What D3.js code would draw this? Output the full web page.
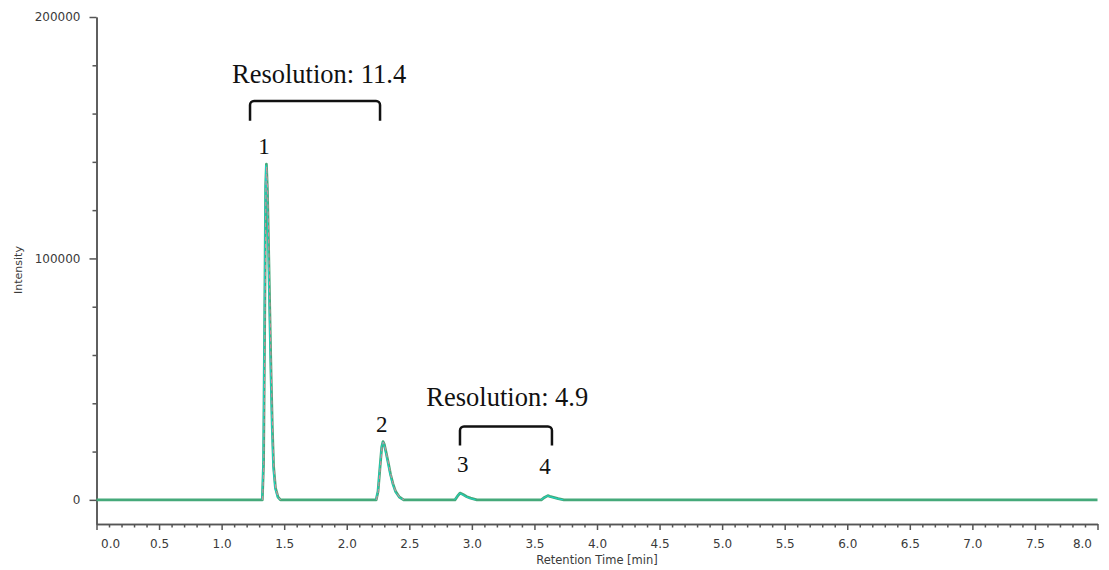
<!DOCTYPE html>
<html>
<head>
<meta charset="utf-8">
<script src="https://cdn.jsdelivr.net/npm/d3@7"></script>
<style>
  body { margin: 0; background: #fff; }
  .axis path, .axis line { stroke: #555; }
  .axis text { font-family: "DejaVu Sans", sans-serif; font-size: 12px; fill: #3a3a3a; }
  .axisTitle { font-family: "DejaVu Sans", sans-serif; fill: #3a3a3a; }
  .note { font-family: "Liberation Serif", "Times New Roman", serif; fill: #111; }
</style>
</head>
<body>
<script>
(function(){

  //main trace (green), retention time in min and intensity
  var mainTime = [0.0, 1.325, 1.335, 1.345, 1.352, 1.358, 1.366, 1.375, 1.385, 1.395, 1.405, 1.415, 1.43, 1.45, 1.47,
                  2.235, 2.25, 2.265, 2.28, 2.29, 2.30, 2.315, 2.333, 2.35, 2.37, 2.39, 2.42, 2.455,
                  2.865, 2.885, 2.905, 2.93, 2.96, 2.99, 3.04,
                  3.555, 3.58, 3.607, 3.63, 3.66, 3.69, 3.735, 8.0];
  var mainIntensity = [0, 0, 15000, 80000, 130000, 139000, 128000, 105000, 78000, 52000, 30000, 14000, 5000, 1200, 0,
                       0, 3500, 13000, 22000, 24100, 23000, 19500, 15000, 10500, 6500, 3500, 1200, 0,
                       0, 1500, 2800, 2200, 1300, 700, 0,
                       0, 1000, 1750, 1300, 900, 500, 0, 0];

  //overlaid trace (cyan), only around the peaks, null breaks the line
  var cyanTime = [1.322, 1.331, 1.341, 1.348, 1.354, 1.362, 1.371, 1.381, 1.391, 1.401, 1.411, 1.426, 1.446, 1.466, 1.5,
                  2.232, 2.247, 2.262, 2.277, 2.287, 2.297, 2.312, 2.33, 2.347, 2.367, 2.387, 2.417, 2.452, 2.5,
                  2.862, 2.882, 2.902, 2.927, 2.957, 2.987, 3.03, 3.1,
                  3.552, 3.577, 3.604, 3.627, 3.657, 3.687, 3.73];
  var cyanIntensity = [0, 14000, 78000, 129000, 138500, 127000, 104000, 77000, 51000, 29000, 13500, 4800, 1100, 0, null,
                       0, 3400, 12800, 21800, 24000, 22900, 19300, 14800, 10300, 6400, 3400, 1100, 0, null,
                       0, 1400, 2700, 2100, 1200, 600, 0, null,
                       0, 900, 1700, 1250, 850, 450, 0];

  //overlaid trace (pink dashed)
  var pinkTime = [1.327, 1.337, 1.347, 1.354, 1.36, 1.368, 1.377, 1.387, 1.397, 1.407, 1.417, 1.432, 1.452, 1.472, 1.5,
                  2.237, 2.252, 2.267, 2.282, 2.292, 2.302, 2.317, 2.335, 2.352, 2.372, 2.392, 2.422, 2.457];
  var pinkIntensity = [0, 14500, 79000, 129500, 138000, 127500, 104500, 77500, 51500, 29500, 13800, 4900, 1150, 0, null,
                       0, 3450, 12900, 21900, 23900, 22950, 19400, 14900, 10400, 6450, 3450, 1150, 0];

  //axis ticks
  var yMajorTicks = [0, 100000, 200000];
  var yMinorTicks = [20000, 40000, 60000, 80000, 120000, 140000, 160000, 180000];
  var xMajorTicks = [0.0, 0.5, 1.0, 1.5, 2.0, 2.5, 3.0, 3.5, 4.0, 4.5, 5.0, 5.5, 6.0, 6.5, 7.0, 7.5, 8.0];
  var xMinorTicks = [];
  for (var m = 1; m < 80; m++){ if (m % 5 != 0) xMinorTicks.push(m / 10); };

  //peak numbers, placed at retention time / intensity
  var peakLabels = ["1", "2", "3", "4"];
  var peakLabelTime = [1.339, 2.28, 2.927, 3.585];
  var peakLabelIntensity = [143300, 28300, 11700, 10600];

  //resolution notes and brackets
  var resLabels = ["Resolution: 11.4", "Resolution: 4.9"];
  var resLabelTime = [1.779, 3.283];
  var resLabelIntensity = [172700, 38900];
  var bracketStart = [1.227, 2.905];
  var bracketEnd = [2.266, 3.64];
  var bracketTop = [165200, 30350];
  var bracketBottom = [157000, 22500];

  window.onload = drawChart();

  function drawChart(){
    var width = 1109,
        height = 570;

    var svg = d3.select("body")
      .append("svg")
      .attr("width", width)
      .attr("height", height);

    var x = d3.scaleLinear() //retention time
      .domain([0, 8])
      .range([96.5, 1097.5]);

    var y = d3.scaleLinear() //intensity
      .domain([-10000, 200000])
      .range([524, 17]);

    //y axis, minor ticks first then labelled ones
    svg.append("g")
      .attr("class", "axis")
      .attr("transform", "translate(96.5,0)")
      .call(d3.axisLeft(y).tickValues(yMinorTicks).tickSize(4).tickSizeOuter(0).tickFormat(""))
      .selectAll("line, path").attr("stroke-width", 1.5);

    var yAxis = svg.append("g")
      .attr("class", "axis")
      .attr("transform", "translate(96.5,0)")
      .call(d3.axisLeft(y).tickValues(yMajorTicks).tickSize(7).tickSizeOuter(0).tickPadding(9)
        .tickFormat(function(d){ return d; }));
    yAxis.selectAll("line, path").attr("stroke-width", 1.5);

    //x axis
    svg.append("g")
      .attr("class", "axis")
      .attr("transform", "translate(0,524)")
      .call(d3.axisBottom(x).tickValues(xMinorTicks).tickSize(3.5).tickSizeOuter(0).tickFormat(""))
      .selectAll("line, path").attr("stroke-width", 1.5);

    var xAxis = svg.append("g")
      .attr("class", "axis")
      .attr("transform", "translate(0,524)")
      .call(d3.axisBottom(x).tickValues(xMajorTicks).tickSize(6).tickSizeOuter(0).tickPadding(9)
        .tickFormat(d3.format(".1f")));
    xAxis.selectAll("line, path").attr("stroke-width", 1.5);

    //first and last labels are pushed inside the axis
    xAxis.selectAll(".tick text")
      .attr("text-anchor", function(d){
        if (d == 0) return "start";
        if (d == 8) return "end";
        return "middle";
      })
      .attr("x", function(d){
        if (d == 0) return 4;
        if (d == 8) return -6;
        return 0;
      });

    //axis titles
    svg.append("text")
      .attr("class", "axisTitle")
      .attr("x", (x.range()[0] + x.range()[1]) / 2)
      .attr("y", 564)
      .attr("text-anchor", "middle")
      .style("font-size", "11.5px")
      .text("Retention Time [min]");

    svg.append("text")
      .attr("class", "axisTitle")
      .attr("transform", "translate(22,270) rotate(-90)")
      .attr("text-anchor", "middle")
      .style("font-size", "11px")
      .text("Intensity");

    //traces
    var line = d3.line()
      .defined(function(d){ return d[1] != null; })
      .x(function(d){ return x(d[0]); })
      .y(function(d){ return y(d[1]); });

    svg.append("path")
      .datum(d3.zip(mainTime, mainIntensity))
      .attr("fill", "none")
      .attr("stroke", "#45a97a")
      .attr("stroke-width", 2.8)
      .attr("stroke-linejoin", "round")
      .attr("d", line);

    svg.append("path")
      .datum(d3.zip(cyanTime, cyanIntensity))
      .attr("fill", "none")
      .attr("stroke", "#12dcd0")
      .attr("stroke-width", 0.9)
      .attr("d", line);

    svg.append("path")
      .datum(d3.zip(pinkTime, pinkIntensity))
      .attr("fill", "none")
      .attr("stroke", "#d9899c")
      .attr("stroke-width", 1)
      .attr("stroke-dasharray", "4,3")
      .attr("d", line);

    //peak numbers
    svg.selectAll(".peakLabel")
      .data(peakLabels)
      .enter()
      .append("text")
      .attr("class", "note peakLabel")
      .attr("x", function(d, i){ return x(peakLabelTime[i]); })
      .attr("y", function(d, i){ return y(peakLabelIntensity[i]); })
      .attr("text-anchor", "middle")
      .style("font-size", "23px")
      .text(function(d){ return d; });

    //resolution notes
    svg.selectAll(".resLabel")
      .data(resLabels)
      .enter()
      .append("text")
      .attr("class", "note resLabel")
      .attr("x", function(d, i){ return x(resLabelTime[i]); })
      .attr("y", function(d, i){ return y(resLabelIntensity[i]); })
      .attr("text-anchor", "middle")
      .style("font-size", "26.5px")
      .text(function(d){ return d; });

    //brackets with rounded corners
    svg.selectAll(".bracket")
      .data(resLabels)
      .enter()
      .append("path")
      .attr("class", "bracket")
      .attr("fill", "none")
      .attr("stroke", "#111")
      .attr("stroke-width", 2.5)
      .attr("d", function(d, i){
        var x0 = x(bracketStart[i]), x1 = x(bracketEnd[i]),
            yt = y(bracketTop[i]), yb = y(bracketBottom[i]), r = 4;
        var p = d3.path();
        p.moveTo(x0, yb);
        p.arcTo(x0, yt, x0 + r, yt, r);
        p.arcTo(x1, yt, x1, yt + r, r);
        p.lineTo(x1, yb);
        return p.toString();
      });
  };
})();
</script>
</body>
</html>
